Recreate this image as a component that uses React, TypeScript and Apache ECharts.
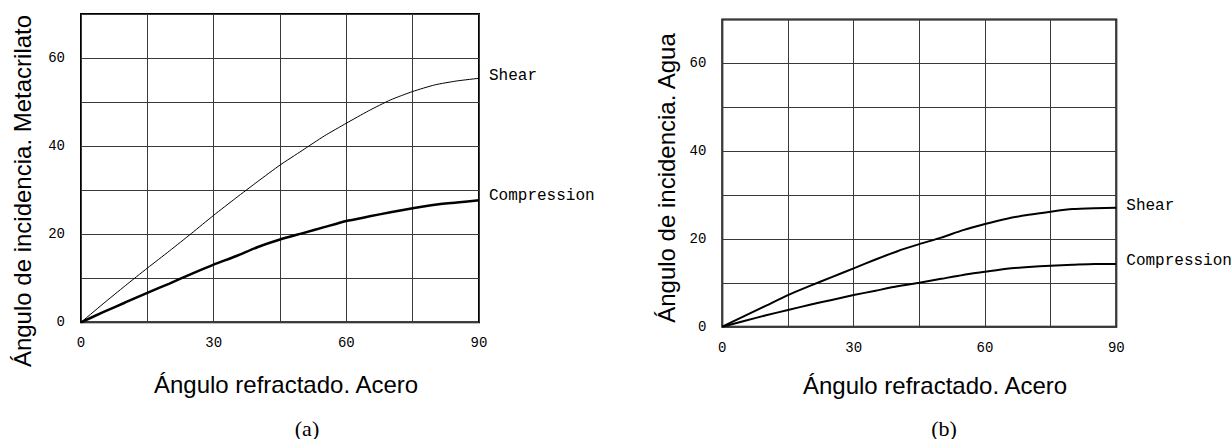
import React, { useEffect, useRef } from "react";
import * as echarts from "echarts";

const angles = [0, 5, 10, 15, 20, 25, 30, 35, 40, 45, 50, 55, 60, 65, 70, 75, 80, 85, 90];

const shearMetacrilato = [0, 4.2, 8.3, 12.3, 16.2, 20.2, 24.3, 28.2, 32, 35.7, 39, 42.3, 45.2, 48, 50.5, 52.4, 53.9, 54.8, 55.4];
const compressionMetacrilato = [0, 2.3, 4.5, 6.7, 8.8, 11, 13.1, 15, 17.1, 18.8, 20.2, 21.6, 23, 24, 25, 25.9, 26.7, 27.2, 27.7];

const shearAgua = [0, 2.4, 4.8, 7.2, 9.3, 11.3, 13.3, 15.3, 17.2, 18.8, 20.3, 22, 23.4, 24.6, 25.5, 26.2, 26.8, 27, 27.1];
const compressionAgua = [0, 1.3, 2.6, 3.8, 5, 6.1, 7.2, 8.2, 9.2, 10, 10.9, 11.8, 12.5, 13.2, 13.6, 13.9, 14.1, 14.3, 14.3];

const yTicks = [0, 20, 40, 60];
const xTicks = [0, 30, 60, 90];

const xTitle = "Ángulo refractado. Acero";
const yTitleA = "Ángulo de incidencia. Metacrilato";
const yTitleB = "Ángulo de incidencia. Agua";
const captions = ["(a)", "(b)"];

const pairs = (ys: number[]) => angles.map((x, i) => [x, ys[i]]);

export default function App() {
  const ref = useRef<HTMLDivElement>(null);
  useEffect(() => {
    document.body.style.margin = "0";
    const chart = echarts.init(ref.current!, null, { renderer: "svg" });
    const mono = "Liberation Mono";
    const xAxisBase = (gridIndex: number) => ({
      type: "value" as const,
      gridIndex,
      min: 0,
      max: 90,
      interval: 15,
      axisLine: { show: false },
      axisTick: { show: false },
      splitLine: { show: true, lineStyle: { color: "#3a3a3a", width: 1 } },
      axisLabel: {
        margin: 14,
        color: "#000",
        fontFamily: mono,
        fontSize: 14,
        formatter: (v: number) => (xTicks.includes(v) ? String(v) : ""),
      },
    });
    const yAxisBase = (gridIndex: number) => ({
      type: "value" as const,
      gridIndex,
      min: 0,
      max: 70,
      interval: 10,
      axisLine: { show: false },
      axisTick: { show: false },
      splitLine: { show: true, lineStyle: { color: "#3a3a3a", width: 1 } },
      axisLabel: {
        margin: 16,
        color: "#000",
        fontFamily: mono,
        fontSize: 14,
        formatter: (v: number) => (yTicks.includes(v) ? String(v) : ""),
      },
    });
    const lineSeries = (name: string, data: number[], idx: number, width: number, offsetY: number) => ({
      type: "line" as const,
      name,
      xAxisIndex: idx,
      yAxisIndex: idx,
      data: pairs(data),
      smooth: 0.2,
      showSymbol: false,
      lineStyle: { color: "#000", width },
      endLabel: {
        show: true,
        formatter: name,
        fontFamily: mono,
        fontSize: 16,
        color: "#000",
        distance: 10,
        offset: [0, offsetY],
      },
    });
    const titleText = { fontFamily: "Liberation Sans", fontSize: 24, fill: "#000" };
    const captionText = { fontFamily: "Liberation Serif", fontSize: 22, fill: "#000" };
    chart.setOption({
      animation: false,
      grid: [
        { left: 81, top: 14, width: 398, height: 308.3, show: true, borderColor: "#000", borderWidth: 2 },
        { left: 722.3, top: 19.4, width: 394, height: 307.3, show: true, borderColor: "#000", borderWidth: 2 },
      ],
      xAxis: [xAxisBase(0), xAxisBase(1)],
      yAxis: [yAxisBase(0), yAxisBase(1)],
      series: [
        lineSeries("Shear", shearMetacrilato, 0, 1, -2),
        lineSeries("Compression", compressionMetacrilato, 0, 2.5, -4),
        lineSeries("Shear", shearAgua, 1, 2, -2),
        lineSeries("Compression", compressionAgua, 1, 2, -3),
      ],
      graphic: [
        {
          type: "text",
          x: 286,
          y: 384,
          style: { ...titleText, text: xTitle, align: "center", verticalAlign: "middle" },
        },
        {
          type: "text",
          x: 935,
          y: 385,
          style: { ...titleText, text: xTitle, align: "center", verticalAlign: "middle" },
        },
        {
          type: "text",
          x: 22,
          y: 191,
          rotation: Math.PI / 2,
          style: { ...titleText, text: yTitleA, align: "center", verticalAlign: "middle" },
        },
        {
          type: "text",
          x: 666,
          y: 178,
          rotation: Math.PI / 2,
          style: { ...titleText, text: yTitleB, align: "center", verticalAlign: "middle" },
        },
        {
          type: "text",
          x: 307,
          y: 428,
          style: { ...captionText, text: captions[0], align: "center", verticalAlign: "middle" },
        },
        {
          type: "text",
          x: 944,
          y: 428,
          style: { ...captionText, text: captions[1], align: "center", verticalAlign: "middle" },
        },
      ],
    });
    return () => chart.dispose();
  }, []);
  return <div ref={ref} style={{ width: 1231, height: 439 }} />;
}
